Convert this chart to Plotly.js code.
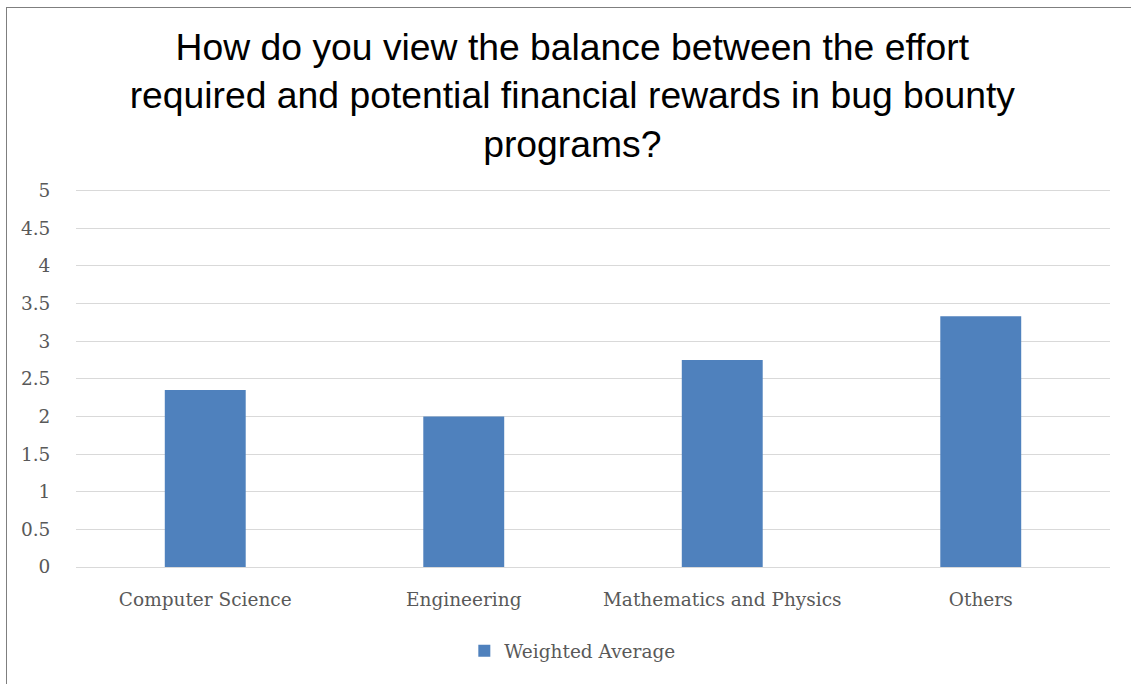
<!DOCTYPE html>
<html><head><meta charset="utf-8">
<script src="https://cdn.plot.ly/plotly-3.0.1.min.js"></script>
<style>
html,body{margin:0;padding:0;background:#fff;overflow:hidden}
#chart{width:1131px;height:684px;position:absolute;left:0;top:0}
#frame{position:absolute;left:6px;top:7px;width:1200px;height:800px;border:1px solid #7f7f7f;pointer-events:none;box-sizing:border-box}
</style></head>
<body>
<div id="chart"></div>
<div id="frame"></div>
<script>
const categories = ["Computer Science", "Engineering", "Mathematics and Physics", "Others"];
const weightedAverage = [2.35, 2.0, 2.75, 3.33];
const seriesName = "Weighted Average";
const yTicks = [0, 0.5, 1, 1.5, 2, 2.5, 3, 3.5, 4, 4.5, 5];
const titleText = "How do you view the balance between the effort<br>required and potential financial rewards in bug bounty<br>programs?";

const serif = "'DejaVu Serif', serif";
Plotly.newPlot('chart', [{
  type: 'bar',
  x: categories,
  y: weightedAverage,
  name: seriesName,
  marker: {color: '#4F81BD'},
  showlegend: true
}], {
  width: 1131, height: 684,
  paper_bgcolor: '#fff', plot_bgcolor: '#fff',
  margin: {l: 76, r: 21, t: 188.5, b: 117},
  bargap: 0.687,
  title: {text: titleText, font: {family: "'Liberation Sans', Arial, sans-serif", size: 37.3, color: '#000'},
          x: 0.48, xref: 'paper', xanchor: 'center', y: 1, yref: 'paper', yanchor: 'bottom', pad: {b: 129}},
  xaxis: {type: 'category', showgrid: false, zeroline: false, showline: true, linecolor: '#d9d9d9', linewidth: 1,
          ticks: 'outside', ticklen: 16, tickcolor: 'rgba(0,0,0,0)',
          tickfont: {family: serif, size: 18.5, color: '#595959'}},
  yaxis: {range: [0, 5.02], tickvals: yTicks, ticktext: yTicks.map(String), showgrid: true, gridcolor: '#d9d9d9', gridwidth: 1,
          zeroline: false, showline: false, ticks: 'outside', ticklen: 21, tickcolor: 'rgba(0,0,0,0)',
          tickfont: {family: serif, size: 18.5, color: '#595959'}},
  legend: {orientation: 'h', x: 0.48, xanchor: 'center', y: -0.223, yanchor: 'middle',
           font: {family: serif, size: 18.5, color: '#595959'}},
}, {displayModeBar: false, staticPlot: true});
</script>
</body></html>
